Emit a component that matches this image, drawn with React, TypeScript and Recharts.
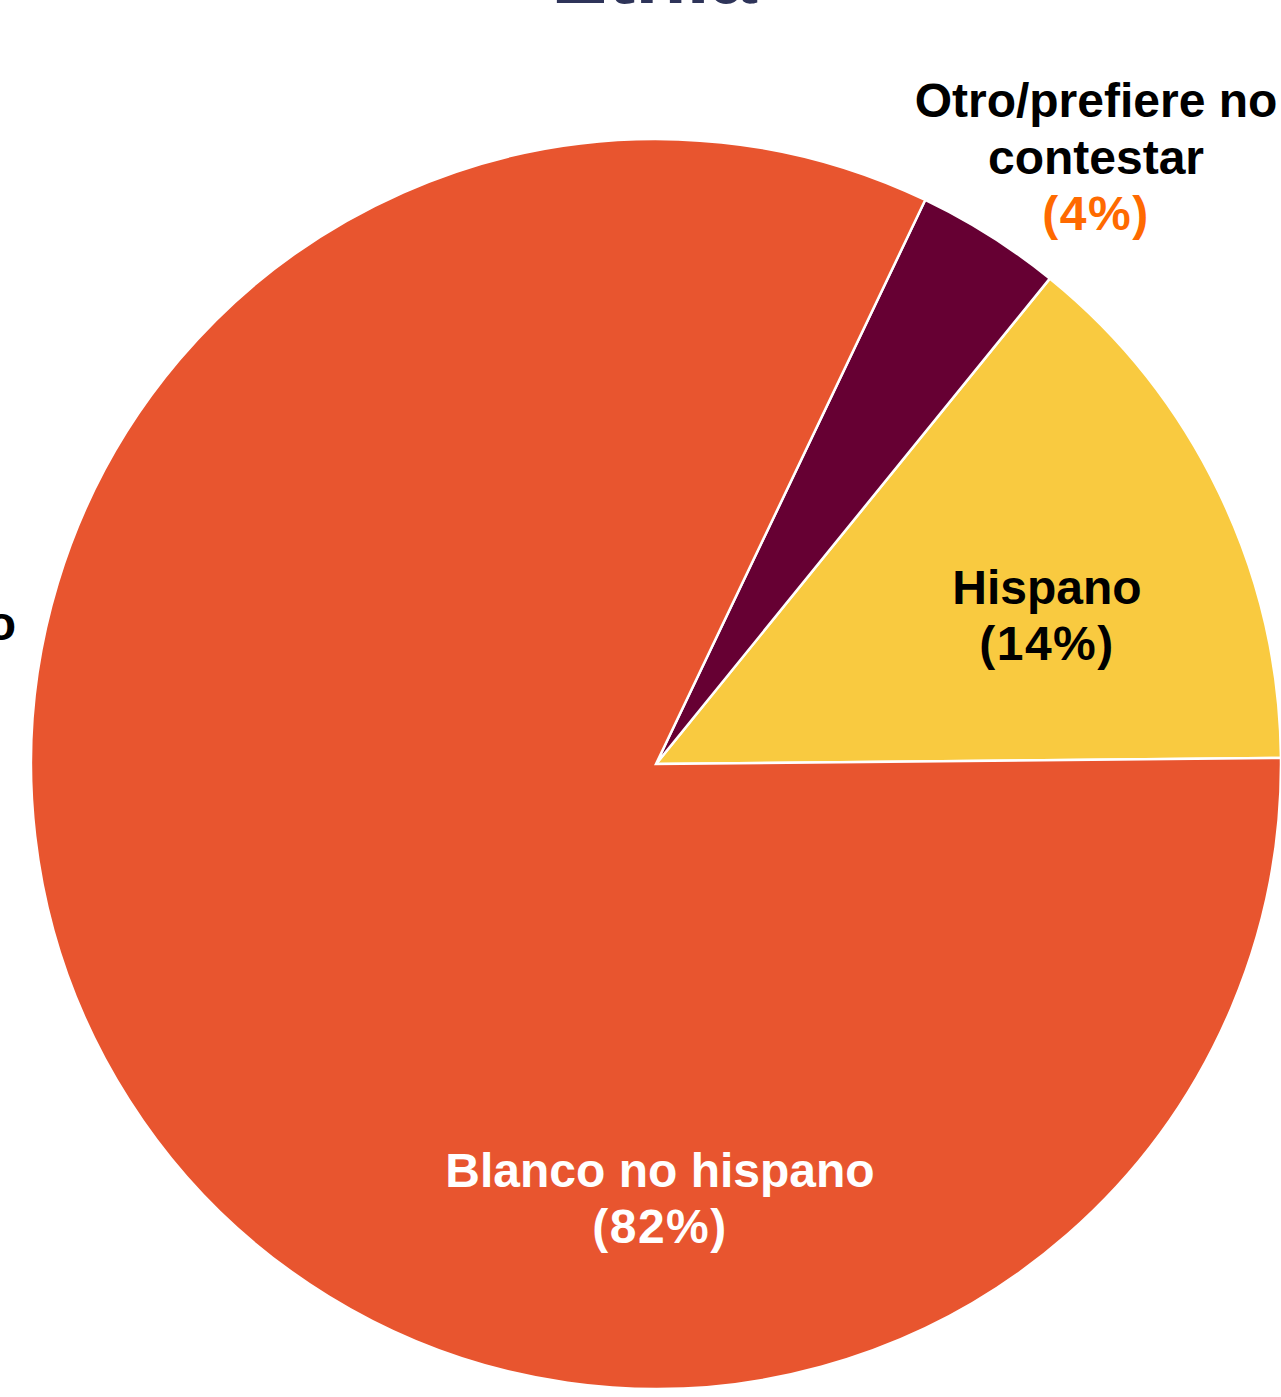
import React from "react";
import { PieChart, Pie, Cell } from "recharts";

// Data
const categories = ["Hispano", "Otro/prefiere no contestar", "Blanco no hispano"];
const labelLines = [["Hispano"], ["Otro/prefiere no", "contestar"], ["Blanco no hispano"]];
const values = [14.0, 3.76, 82.24];
const percentLabels = ["(14%)", "(4%)", "(82%)"];
const titleText = "Etnia";
const leftCutLabel = "Negro no hispano";

// Styles
const COLORS = ["#F9CA40", "#660033", "#E8552F"];
const NAME_COLORS = ["#000000", "#000000", "#FFFFFF"];
const PCT_COLORS = ["#000000", "#FF6A00", "#FFFFFF"];
// label anchor (first baseline) relative to pie centre
const LABEL_POS = [
  { dx: 391, dy: -160 },
  { dx: 440, dy: -647 },
  { dx: 4, dy: 423 },
];
const LINE_H = 57;
const FONT = '"Liberation Sans", Arial, sans-serif';

const W = 1281;
const H = 1397;
const CX = 656;
const CY = 764;
const R = 625;

const data = categories.map((c, i) => ({ name: c, value: values[i] }));

const renderLabel = (props: any) => {
  const { cx, cy, index } = props;
  const p = LABEL_POS[index];
  const x = cx + p.dx;
  const y0 = cy + p.dy;
  const lines = labelLines[index];
  return (
    <g key={"lbl" + index}>
      {lines.map((ln, k) => (
        <text
          key={k}
          x={x}
          y={y0 + k * LINE_H}
          textAnchor="middle"
          fill={NAME_COLORS[index]}
          fontFamily={FONT}
          fontWeight="bold"
          fontSize={48}
        >
          {ln}
        </text>
      ))}
      <text
        x={x}
        y={y0 + lines.length * LINE_H - 1}
        textAnchor="middle"
        fill={PCT_COLORS[index]}
        fontFamily={FONT}
        fontWeight="bold"
        fontSize={48}
        letterSpacing={1.5}
      >
        {percentLabels[index]}
      </text>
    </g>
  );
};

export default function App() {
  return (
    <div style={{ position: "absolute", left: 0, top: 0, width: W, height: H, background: "#fff" }}>
      <PieChart width={W} height={H} margin={{ top: 0, right: 0, bottom: 0, left: 0 }}>
        <Pie
          data={data}
          dataKey="value"
          nameKey="name"
          cx={CX}
          cy={CY}
          outerRadius={R}
          innerRadius={0}
          startAngle={0.55}
          endAngle={360.55}
          stroke="#FFFFFF"
          strokeWidth={2.5}
          label={renderLabel}
          labelLine={false}
          isAnimationActive={false}
        >
          {data.map((d, i) => (
            <Cell key={d.name} fill={COLORS[i]} />
          ))}
        </Pie>
      </PieChart>
      <svg
        width={W}
        height={H}
        style={{ position: "absolute", left: 0, top: 0, pointerEvents: "none" }}
      >
        <text
          x={654}
          y={3}
          textAnchor="middle"
          fill="#2E3459"
          fontFamily={FONT}
          fontWeight="bold"
          fontSize={84}
        >
          {titleText}
        </text>
        <text
          x={16}
          y={640}
          textAnchor="end"
          fill="#000000"
          fontFamily={FONT}
          fontWeight="bold"
          fontSize={48}
        >
          {leftCutLabel}
        </text>
      </svg>
    </div>
  );
}
